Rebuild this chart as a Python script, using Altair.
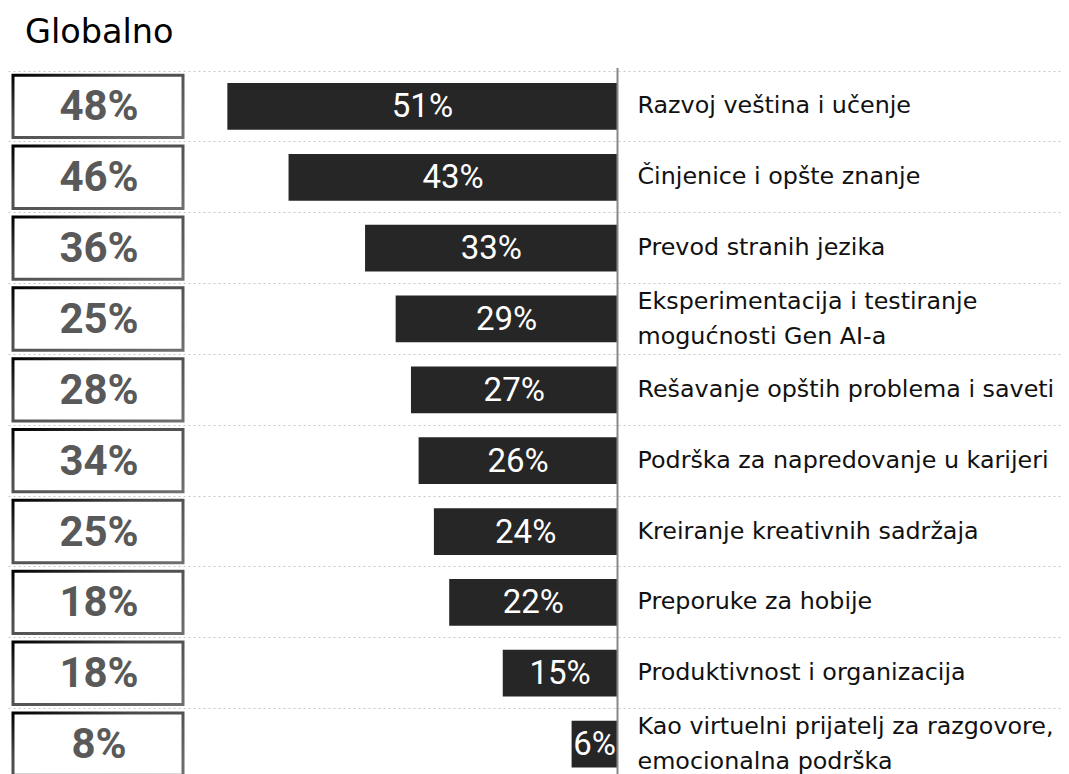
import altair as alt
import pandas as pd

TITLE = "Globalno"
categories = [
    "Razvoj veština i učenje",
    "Činjenice i opšte znanje",
    "Prevod stranih jezika",
    "Eksperimentacija i testiranje\nmogućnosti Gen AI-a",
    "Rešavanje opštih problema i saveti",
    "Podrška za napredovanje u karijeri",
    "Kreiranje kreativnih sadržaja",
    "Preporuke za hobije",
    "Produktivnost i organizacija",
    "Kao virtuelni prijatelj za razgovore,\nemocionalna podrška",
]
values = [51, 43, 33, 29, 27, 26, 24, 22, 15, 6]
previous = [48, 46, 36, 25, 28, 34, 25, 18, 18, 8]

df = pd.DataFrame({"cat": categories, "value": values, "prev": previous})
df["vlabel"] = [f"{v}%" for v in values]
df["plabel"] = [f"{p}%" for p in previous]
df["multi"] = [1 if "\n" in c else 0 for c in categories]

W = 1053
BANDS_H = 708.5
VIEW_H = 710
TOP = 63
axis_px = 609.5
px_per = 7.65
xscale = alt.Scale(domain=[-axis_px / px_per, (W - axis_px) / px_per], nice=False, zero=False)

y_enc = alt.Y(
    "cat:N",
    sort=None,
    scale=alt.Scale(paddingInner=0, paddingOuter=0, range=[0, BANDS_H]),
    axis=alt.Axis(
        labels=False, ticks=False, domain=False, title=None, grid=True,
        gridDash=[2, 3], gridColor="#c8c8c8", gridWidth=1, bandPosition=0,
    ),
)

base = alt.Chart(df).transform_calculate(
    neg="-datum.value", mid="-datum.value/2", zero="0",
)

bars = base.mark_bar(color="#262626", height=alt.RelativeBandSize(0.66)).encode(
    x=alt.X("neg:Q", scale=xscale, axis=None),
    x2=alt.datum(0),
    y=y_enc,
)

bar_text = base.mark_text(
    color="white", font="Roboto", fontSize=33,
    align="center", baseline="middle", dy=1,
).encode(
    x=alt.X("mid:Q", scale=xscale, axis=None),
    y=y_enc,
    text="vlabel:N",
)

border_grad = alt.LinearGradient(
    gradient="linear",
    stops=[alt.GradientStop(color="#000000", offset=0),
           alt.GradientStop(color="#4a4a4a", offset=0.35),
           alt.GradientStop(color="#707070", offset=1)],
    x1=0, y1=0, x2=1, y2=1,
)

boxes = base.mark_bar(
    fill="white", stroke=border_grad, strokeWidth=3, height=alt.RelativeBandSize(0.88),
).encode(
    x=alt.value(5), x2=alt.value(175), y=y_enc,
)

box_text = base.mark_text(
    color="#595959", font="Roboto", fontWeight="bold", fontSize=42,
    align="center", baseline="middle", dy=1,
).encode(
    x=alt.value(91), y=y_enc, text="plabel:N",
)

cat_single = base.mark_text(
    color="#111111", font="DejaVu Sans", fontSize=23.8, align="left", baseline="middle",
    dx=20,
).encode(
    x=alt.X("zero:Q", scale=xscale, axis=None),
    y=y_enc,
    text="cat:N",
).transform_filter("datum.multi == 0")

cat_multi = base.mark_text(
    color="#111111", font="DejaVu Sans", fontSize=23.8, align="left", baseline="middle",
    dx=20, dy=-17, lineBreak="\n", lineHeight=35,
).encode(
    x=alt.X("zero:Q", scale=xscale, axis=None),
    y=y_enc,
    text="cat:N",
).transform_filter("datum.multi == 1")

vline = base.mark_rule(color="#888888", strokeWidth=2).encode(
    x=alt.X("zero:Q", scale=xscale, axis=None),
    y=alt.value(-3),
    y2=alt.value(VIEW_H + 10),
).transform_filter("datum.value == 51")

title = alt.Chart(pd.DataFrame({"t": [TITLE]})).mark_text(
    font="DejaVu Sans", fontSize=33.5, color="#000000", align="left", baseline="alphabetic",
).encode(x=alt.value(17), y=alt.value(-28), text="t:N")

chart = alt.layer(bars, bar_text, boxes, box_text, cat_single, cat_multi, vline, title).properties(
    width=W, height=VIEW_H,
    autosize="none",
    padding={"left": 0, "top": TOP, "right": 0, "bottom": 0},
).configure_view(stroke=None)

chart.save("out.html", embed_options={"renderer": "svg", "actions": False})
